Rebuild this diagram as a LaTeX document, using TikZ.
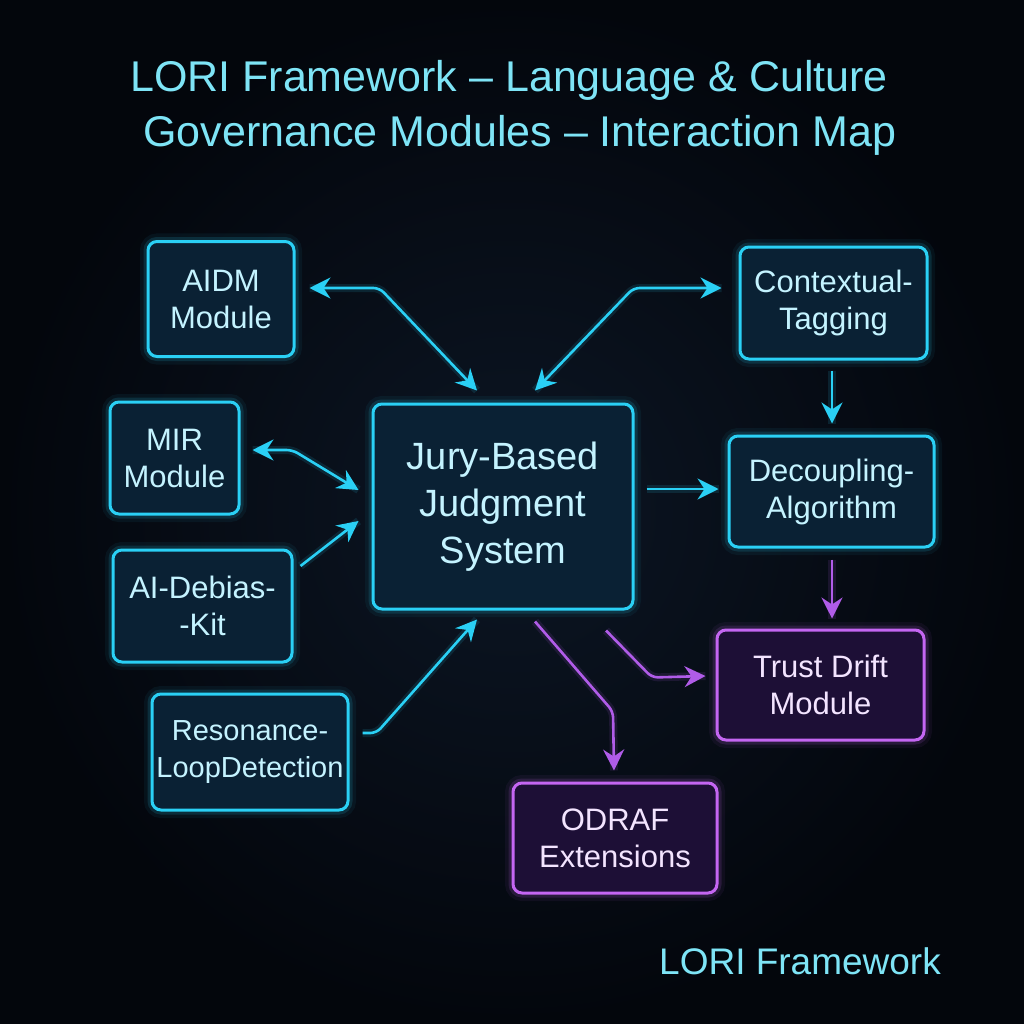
\documentclass[tikz,border=0pt]{standalone}
\usepackage{fontspec}
\setmainfont{Liberation Sans}
\usetikzlibrary{arrows.meta,calc}
\definecolor{bgin}{RGB}{12,22,36}
\definecolor{bgout}{RGB}{3,6,12}
\definecolor{cy}{RGB}{42,208,245}
\definecolor{cyfill}{RGB}{10,33,52}
\definecolor{cytext}{RGB}{196,243,255}
\definecolor{ttl}{RGB}{126,228,246}
\definecolor{pu}{RGB}{196,102,242}
\definecolor{pufill}{RGB}{29,15,54}
\definecolor{putext}{RGB}{243,228,255}
\definecolor{puarr}{RGB}{176,92,232}
\tikzset{
  box/.style={rounded corners=9, draw=cy, line width=3, fill=cyfill, text=cytext,
    align=center, inner sep=0, font=\fontsize{31}{37}\selectfont,
    preaction={draw=cy, line width=16, draw opacity=0.06},
    preaction={draw=cy, line width=9, draw opacity=0.14}},
  pbox/.style={rounded corners=9, draw=pu, line width=3, fill=pufill, text=putext,
    align=center, inner sep=0, font=\fontsize{31}{37}\selectfont,
    preaction={draw=pu, line width=16, draw opacity=0.06},
    preaction={draw=pu, line width=9, draw opacity=0.14}},
  arr/.style={draw=cy, line width=2.6, rounded corners=6,
    -{Stealth[length=21,width=21,inset=7]},
    preaction={draw=cy, line width=8, draw opacity=0.12, -}},
  biarr/.style={arr, {Stealth[length=21,width=21,inset=7]}-{Stealth[length=21,width=21,inset=7]}},
  parr/.style={draw=puarr, line width=2.6, rounded corners=6,
    -{Stealth[length=21,width=21,inset=7]},
    preaction={draw=puarr, line width=8, draw opacity=0.12, -}},
  ttlstyle/.style={text=ttl, font=\fontsize{43}{55}\selectfont, inner sep=0}
}
\begin{document}
\begin{tikzpicture}[x=1pt,y=-1pt]
\useasboundingbox (0,0) rectangle (1024,1024);
\shade[inner color=bgin, outer color=bgout] (0,0) rectangle (1024,1024);

\node[ttlstyle, anchor=base] (t1) at (509,92) {LORI Framework – Language \& Culture};
\node[ttlstyle, anchor=base] (t2) at (520,147) {Governance Modules – Interaction Map};
\node[text=ttl, font=\fontsize{37}{44}\selectfont, inner sep=0, anchor=base] (foot) at (800,974) {LORI Framework};

\node[box, minimum width=146, minimum height=115] (aidm) at (221,299) {AIDM\\Module};
\node[box, minimum width=129, minimum height=112] (mir) at (174.5,458) {MIR\\Module};
\node[box, minimum width=179, minimum height=112] (deb) at (202.5,606) {AI-Debias-\\-Kit};
\node[box, minimum width=196, minimum height=116, font=\fontsize{29}{37}\selectfont] (res) at (250,752) {Resonance-\\LoopDetection};
\node[box, minimum width=260, minimum height=205, font=\fontsize{38}{47}\selectfont] (jury) at (503,506.5) {Jury-Based\\Judgment\\System};
\node[box, minimum width=187, minimum height=112] (ctx) at (833.5,303) {Contextual-\\Tagging};
\node[box, minimum width=205, minimum height=111] (dec) at (831.5,491.5) {Decoupling-\\Algorithm};
\node[pbox, minimum width=207, minimum height=110] (trust) at (820.5,685) {Trust Drift\\Module};
\node[pbox, minimum width=204, minimum height=110] (odraf) at (615,838) {ODRAF\\Extensions};

% cyan connectors
\draw[biarr] ($(aidm.east)+(14,-11)$) -- ++(70,0) -- ($(jury.north)+(-26,-12)$);
\draw[biarr] ($(ctx.west)+(-17,-15)$) -- ++(-88,0) -- ($(jury.north)+(32,-12)$);
\draw[arr] ($(ctx.south)+(-1.5,10)$) -- ($(dec.north)+(0.5,-11)$);
\draw[biarr] ($(mir.east)+(12,-8)$) -- ++(40,0) -- ($(jury.west)+(-13,-16.5)$);
\draw[arr] ($(deb.east)+(7,-40)$) -- ($(jury.west)+(-13,14.5)$);
\draw[arr] ($(res.east)+(13,-19)$) -- ++(14,0) -- ($(jury.south)+(-26,9)$);
\draw[arr] ($(jury.east)+(12,-17.5)$) -- ($(dec.west)+(-9,-2.5)$);

% purple connectors
\draw[parr] ($(dec.south)+(0.5,11)$) -- ($(trust.north)+(11.5,-10)$);
\draw[parr] ($(jury.south)+(103,20)$) -- ++(46,47) -- ($(trust.west)+(-10,-9)$);
\draw[parr] ($(jury.south)+(32,11)$) -- ++(78,90) -- ($(odraf.north)+(-1,-11)$);
\end{tikzpicture}
\end{document}
